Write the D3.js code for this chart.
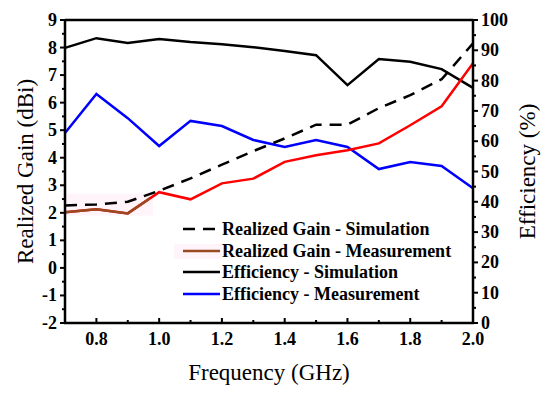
<!DOCTYPE html>
<meta charset="utf-8">
<head>
	<title>Gain and Efficiency</title>
</head>
<style>
	body { margin: 0; background: #fff; }
	svg text { font-family: "Liberation Serif", "Times New Roman", serif; }
	.tick-label { font-size: 18px; font-weight: bold; fill: #000; }
	.axis-title { font-size: 23px; fill: #000; }
	.legend-text { font-size: 18px; font-weight: bold; fill: #000; }
</style>
<body>
<div id="chart"></div>
<script src="https://d3js.org/d3.v7.min.js"></script>
<script>

var freq = [0.7, 0.8, 0.9, 1.0, 1.1, 1.2, 1.3, 1.4, 1.5, 1.6, 1.7, 1.8, 1.9, 2.0];
var gainSim = [2.27, 2.3, 2.4, 2.8, 3.25, 3.75, 4.24, 4.7, 5.2, 5.2, 5.8, 6.27, 6.85, 8.15];
var gainMeas = [2.02, 2.13, 1.98, 2.75, 2.49, 3.07, 3.24, 3.85, 4.09, 4.27, 4.52, 5.18, 5.87, 7.43];
var effSim = [90.8, 94.0, 92.4, 93.7, 92.7, 92.0, 91.0, 89.8, 88.4, 78.5, 87.1, 86.2, 83.8, 77.6];
var effMeas = [62.7, 75.6, 67.6, 58.4, 66.7, 65.0, 60.4, 58.1, 60.4, 58.1, 50.8, 53.1, 51.8, 44.5];

var xTicks = [0.8, 1.0, 1.2, 1.4, 1.6, 1.8, 2.0];
var gainTicks = [-2, -1, 0, 1, 2, 3, 4, 5, 6, 7, 8, 9];
var effTicks = [0, 10, 20, 30, 40, 50, 60, 70, 80, 90, 100];
var legendLabels = ["Realized Gain - Simulation", "Realized Gain - Measurement",
	"Efficiency - Simulation", "Efficiency - Measurement"];

var width = 550, height = 397;
var pLeft = 65, pRight = 473, pTop = 20, pBottom = 323;

var svg = d3.select("#chart").append("svg")
	.attr("width", width).attr("height", height);

var x = d3.scaleLinear().domain([0.7, 2.0]).range([pLeft, pRight]);
var yG = d3.scaleLinear().domain([-2, 9]).range([pBottom, pTop]);
var yE = d3.scaleLinear().domain([0, 100]).range([pBottom, pTop]);

// faint pink patch (artefact in the original picture)
svg.append("rect")
	.attr("x", x(0.7)).attr("y", yG(2.7))
	.attr("width", x(0.98) - x(0.7)).attr("height", yG(1.9) - yG(2.7))
	.attr("fill", "#fef4f9");

// lines
function line(ys, scale) {
	return d3.line()
		.x(function(d, i) { return x(freq[i]); })
		.y(function(d) { return scale(d); })(ys);
}

svg.append("defs").append("clipPath").attr("id", "brownClip")
	.append("rect")
	.attr("x", x(0.7)).attr("y", pTop)
	.attr("width", x(0.97) - x(0.7)).attr("height", pBottom - pTop);

svg.append("path").attr("d", line(effSim, yE))
	.attr("fill", "none").attr("stroke", "#000").attr("stroke-width", 2.5);
svg.append("path").attr("d", line(effMeas, yE))
	.attr("fill", "none").attr("stroke", "#0000ff").attr("stroke-width", 2.5);
svg.append("path").attr("d", line(gainMeas, yG))
	.attr("fill", "none").attr("stroke", "#ff0000").attr("stroke-width", 2.5);
svg.append("path").attr("d", line(gainMeas, yG))
	.attr("clip-path", "url(#brownClip)")
	.attr("fill", "none").attr("stroke", "#9a4a22").attr("stroke-width", 2.5);
svg.append("path").attr("d", line(gainSim, yG))
	.attr("fill", "none").attr("stroke", "#000").attr("stroke-width", 2.5)
	.attr("stroke-dasharray", "12,8");

// top frame line
svg.append("line").attr("x1", pLeft).attr("x2", pRight).attr("y1", pTop).attr("y2", pTop)
	.attr("stroke", "#000").attr("stroke-width", 2.5);

// bottom axis (ticks inward)
var minorX = d3.range(7, 21).map(function(d) { return d / 10; });
svg.selectAll(".xminor").data(minorX).enter().append("line")
	.attr("x1", function(d) { return x(d); }).attr("x2", function(d) { return x(d); })
	.attr("y1", pBottom).attr("y2", function(d) { return xTicks.some(function(t) { return Math.abs(t - d) < 1e-6; }) ? pBottom - 5 : pBottom - 3; })
	.attr("stroke", "#000").attr("stroke-width", 2);
svg.selectAll(".xlab").data(xTicks).enter().append("text")
	.attr("class", "tick-label")
	.attr("x", function(d) { return x(d); }).attr("y", pBottom + 22)
	.attr("text-anchor", "middle")
	.text(function(d) { return d.toFixed(1); });
svg.append("line").attr("x1", pLeft - 1).attr("x2", pRight + 1).attr("y1", pBottom).attr("y2", pBottom)
	.attr("stroke", "#000").attr("stroke-width", 2.5);

// left axis (ticks outward)
var minorG = d3.range(-4, 19).map(function(d) { return d / 2; });
svg.selectAll(".gminor").data(minorG).enter().append("line")
	.attr("y1", function(d) { return yG(d); }).attr("y2", function(d) { return yG(d); })
	.attr("x1", pLeft).attr("x2", function(d) { return d % 1 === 0 ? pLeft - 5 : pLeft - 3; })
	.attr("stroke", "#000").attr("stroke-width", 2);
svg.selectAll(".glab").data(gainTicks).enter().append("text")
	.attr("class", "tick-label")
	.attr("x", pLeft - 8).attr("y", function(d) { return yG(d) + 6; })
	.attr("text-anchor", "end")
	.text(function(d) { return d; });
svg.append("line").attr("x1", pLeft).attr("x2", pLeft).attr("y1", pTop - 1).attr("y2", pBottom + 1)
	.attr("stroke", "#000").attr("stroke-width", 2.5);

// right axis (ticks outward)
var minorE = d3.range(0, 101, 5);
svg.selectAll(".eminor").data(minorE).enter().append("line")
	.attr("y1", function(d) { return yE(d); }).attr("y2", function(d) { return yE(d); })
	.attr("x1", pRight).attr("x2", function(d) { return d % 10 === 0 ? pRight + 5 : pRight + 3; })
	.attr("stroke", "#000").attr("stroke-width", 2);
svg.selectAll(".elab").data(effTicks).enter().append("text")
	.attr("class", "tick-label")
	.attr("x", pRight + 8).attr("y", function(d) { return yE(d) + 6; })
	.attr("text-anchor", "start")
	.text(function(d) { return d; });
svg.append("line").attr("x1", pRight).attr("x2", pRight).attr("y1", pTop - 1).attr("y2", pBottom + 1)
	.attr("stroke", "#000").attr("stroke-width", 2.5);

// axis titles
svg.append("text").attr("class", "axis-title")
	.attr("x", (pLeft + pRight) / 2).attr("y", 380)
	.attr("text-anchor", "middle")
	.text("Frequency (GHz)");
svg.append("text").attr("class", "axis-title")
	.attr("transform", "translate(33," + ((pTop + pBottom) / 2) + ") rotate(-90)")
	.attr("text-anchor", "middle")
	.text("Realized Gain (dBi)");
svg.append("text").attr("class", "axis-title")
	.attr("transform", "translate(535," + ((pTop + pBottom) / 2) + ") rotate(-90)")
	.attr("text-anchor", "middle")
	.text("Efficiency (%)");

// legend
var legColors = ["#000", "#9a4a22", "#000", "#0000ff"];
var legDash = ["12,8", null, null, null];
var legY = [235, 257, 278, 300];
svg.append("rect").attr("x", 174).attr("y", legY[1] - 13)
	.attr("width", 48).attr("height", 15).attr("fill", "#fef4f9");
var leg = svg.selectAll(".leg").data(legendLabels).enter().append("g");
leg.append("line")
	.attr("x1", 183).attr("x2", 220)
	.attr("y1", function(d, i) { return legY[i] - 6; })
	.attr("y2", function(d, i) { return legY[i] - 6; })
	.attr("stroke", function(d, i) { return legColors[i]; })
	.attr("stroke-width", 2.5)
	.attr("stroke-dasharray", function(d, i) { return legDash[i]; });
leg.append("text").attr("class", "legend-text")
	.attr("x", 222).attr("y", function(d, i) { return legY[i]; })
	.text(function(d) { return d; });

</script>
</body>
</html>
